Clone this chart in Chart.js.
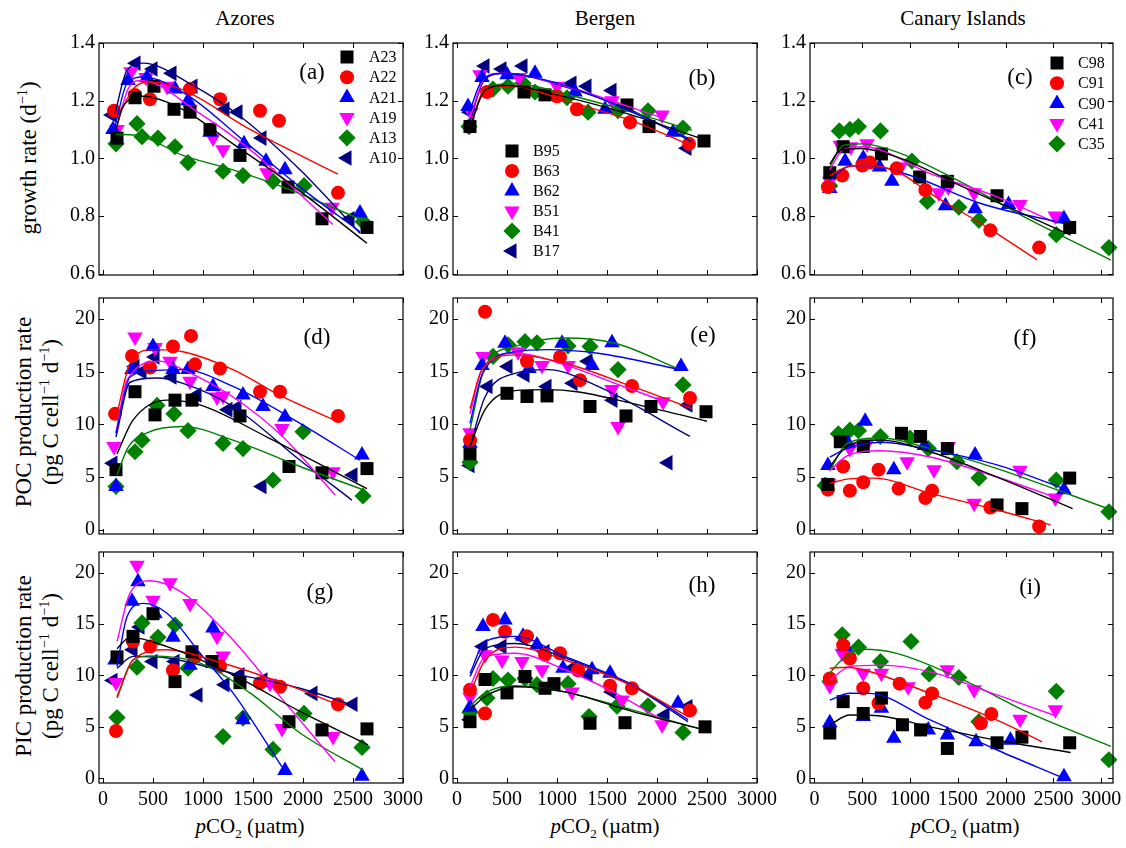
<!DOCTYPE html>
<html>
<head>
<meta charset="UTF-8">
<script src="https://cdn.jsdelivr.net/npm/chart.js@4.4.1/dist/chart.umd.min.js"></script>
<style>
  body { margin: 0; background: #fff; width: 1126px; height: 848px; position: relative; overflow: hidden;
         font-family: "Liberation Serif", "DejaVu Serif", serif; color: #000; }
  canvas { position: absolute; }
  .t { position: absolute; white-space: nowrap; transform: translate(-50%, -50%); }
  .rot { position: absolute; white-space: nowrap; transform: translate(-50%, -50%) rotate(-90deg); font-size: 23px; }
  sup, sub { font-size: 0.62em; }
</style>
</head>
<body>
<div class="t" style="left:245px;top:18px;font-size:21px">Azores</div>
<div class="t" style="left:605px;top:18px;font-size:21px">Bergen</div>
<div class="t" style="left:963px;top:18px;font-size:21px">Canary Islands</div>

<div class="rot" style="left:28px;top:158px">growth rate (d<sup>−1</sup>)</div>
<div class="rot" style="left:24px;top:412px">POC production rate</div>
<div class="rot" style="left:50px;top:412px">(pg C cell<sup>−1</sup> d<sup>−1</sup>)</div>
<div class="rot" style="left:24px;top:666px">PIC production rate</div>
<div class="rot" style="left:50px;top:666px">(pg C cell<sup>−1</sup> d<sup>−1</sup>)</div>

<div class="t" style="left:250px;top:828px;font-size:21px"><i>p</i>CO<sub>2</sub> (µatm)</div>
<div class="t" style="left:605px;top:828px;font-size:21px"><i>p</i>CO<sub>2</sub> (µatm)</div>
<div class="t" style="left:965px;top:828px;font-size:21px"><i>p</i>CO<sub>2</sub> (µatm)</div>

<script>
// ---- growth rate (d-1) ----
const growA23 = [[140,1.07],[320,1.21],[510,1.25],[710,1.17],[870,1.16],[1070,1.10],[1370,1.01],[1850,0.90],[2190,0.79],[2640,0.76]];
const growA23F = [[130,1.10],[200,1.18],[400,1.215],[640,1.195],[870,1.155],[1300,1.05],[1840,0.92],[2640,0.705]];
const growA22 = [[110,1.165],[320,1.22],[470,1.205],[870,1.24],[1170,1.205],[1570,1.165],[1760,1.13],[2350,0.88]];
const growA22F = [[150,1.14],[300,1.24],[470,1.265],[800,1.237],[1470,1.10],[2350,0.945]];
const growA21 = [[100,1.10],[250,1.27],[440,1.28],[720,1.24],[850,1.20],[1070,1.09],[1410,1.05],[1630,0.99],[1820,0.96],[2570,0.81]];
const growA21F = [[120,1.11],[240,1.26],[400,1.282],[840,1.22],[1400,1.063],[1970,0.90],[2570,0.745]];
const growA19 = [[140,1.10],[280,1.30],[430,1.28],[640,1.25],[870,1.17],[1100,1.07],[1200,1.03],[1640,0.95],[2290,0.83]];
const growA19F = [[140,1.11],[250,1.24],[380,1.27],[970,1.155],[1470,1.03],[2300,0.77]];
const growA13 = [[130,1.05],[340,1.12],[390,1.075],[550,1.07],[720,1.04],[850,0.985],[1200,0.955],[1400,0.94],[1700,0.92],[2010,0.905],[2600,0.78]];
const growA13F = [[130,1.083],[340,1.08],[800,1.01],[1300,0.96],[1800,0.90],[2600,0.785]];
const growA10 = [[90,1.15],[330,1.33],[500,1.31],[690,1.295],[900,1.25],[1220,1.17],[1350,1.16],[1590,1.07],[2470,0.79]];
const growA10F = [[120,1.156],[240,1.305],[400,1.33],[900,1.253],[1400,1.138],[1970,0.96],[2570,0.74]];

const growB95 = [[130,1.11],[670,1.23],[880,1.22],[1700,1.185],[1920,1.11],[2470,1.06]];
const growB95F = [[130,1.11],[280,1.235],[480,1.253],[1080,1.213],[1750,1.15],[2410,1.072]];
const growB63 = [[300,1.23],[680,1.235],[1000,1.215],[1200,1.17],[1730,1.125],[2320,1.05]];
const growB63F = [[150,1.13],[280,1.24],[560,1.25],[1080,1.20],[1750,1.13],[2300,1.05]];
const growB62 = [[110,1.18],[250,1.28],[500,1.29],[780,1.295],[1180,1.23],[1480,1.17],[2160,1.09]];
const growB62F = [[115,1.15],[250,1.27],[450,1.294],[1080,1.253],[1750,1.16],[2310,1.07]];
const growB51 = [[140,1.16],[230,1.29],[620,1.28],[1000,1.25],[1550,1.20],[2050,1.15]];
const growB51F = [[130,1.14],[280,1.28],[450,1.295],[1080,1.25],[2050,1.14]];
const growB41 = [[120,1.11],[360,1.24],[510,1.25],[660,1.26],[780,1.23],[1100,1.21],[1310,1.16],[1610,1.165],[1910,1.165],[2260,1.105]];
const growB41F = [[130,1.11],[280,1.24],[580,1.26],[1080,1.223],[1750,1.16],[2350,1.097]];
const growB17 = [[130,1.16],[280,1.32],[450,1.31],[660,1.32],[1150,1.26],[1300,1.25],[1550,1.235],[2300,1.035]];
const growB17F = [[130,1.13],[280,1.275],[480,1.295],[1080,1.248],[1750,1.165],[2350,1.057]];

const growC98 = [[160,0.95],[300,1.04],[700,1.015],[1100,0.935],[1390,0.92],[1910,0.87],[2670,0.76]];
const growC98F = [[160,0.98],[270,1.028],[480,1.034],[860,1.005],[1560,0.90],[2680,0.733]];
const growC91 = [[140,0.90],[290,0.94],[500,0.975],[580,0.985],[860,0.965],[1160,0.89],[1840,0.75],[2350,0.69]];
const growC91F = [[160,0.94],[340,0.97],[510,0.976],[860,0.955],[1210,0.878],[1740,0.774],[2330,0.647]];
const growC90 = [[160,0.895],[320,0.99],[510,1.0],[680,0.97],[810,0.92],[1370,0.835],[1680,0.825],[2030,0.84],[2610,0.79]];
const growC90F = [[160,0.925],[370,0.973],[560,0.975],[1040,0.936],[1740,0.843],[2610,0.774]];
const growC41 = [[160,0.92],[270,1.045],[380,1.04],[550,1.05],[900,0.97],[1300,0.88],[1400,0.90],[1670,0.88],[2150,0.84],[2520,0.80]];
const growC41F = [[160,0.96],[300,1.03],[510,1.04],[1210,0.947],[1910,0.866],[2540,0.774]];
const growC35 = [[160,0.905],[260,1.095],[370,1.10],[460,1.11],[690,1.095],[1020,0.99],[1180,0.85],[1510,0.83],[1720,0.785],[2530,0.735],[3080,0.69]];
const growC35F = [[160,0.97],[300,1.045],[510,1.05],[860,1.022],[1560,0.913],[2260,0.785],[3100,0.647]];

// ---- POC production rate ----
const pocA23 = [[130,5.7],[320,13.1],[520,10.9],[720,12.3],[890,12.3],[1370,10.8],[1860,6.0],[2190,5.4],[2640,5.8]];
const pocA23F = [[140,7.2],[300,10.4],[640,12.3],[970,11.85],[1640,8.8],[2640,3.9]];
const pocA22 = [[120,11.0],[290,16.5],[470,15.4],[700,17.4],[880,18.4],[920,15.7],[1170,15.3],[1570,13.1],[1770,13.1],[2350,10.8]];
const pocA22F = [[140,11.0],[270,15.8],[500,17.1],[800,16.9],[1300,15.2],[1800,12.6],[2350,10.25]];
const pocA21 = [[130,4.1],[290,15.2],[500,17.4],[700,15.2],[850,15.2],[1100,13.6],[1400,12.8],[1600,11.7],[1820,10.7],[2590,7.1]];
const pocA21F = [[130,9.15],[270,14.5],[500,15.1],[800,15.2],[1300,13.6],[1970,10.1],[2570,6.6]];
const pocA19 = [[110,7.9],[320,18.3],[520,17.3],[670,16.0],[870,14.1],[1140,12.6],[1200,12.7],[1790,9.6],[2300,5.5]];
const pocA19F = [[130,9.2],[240,14.2],[570,16.0],[800,15.2],[1300,12.6],[1800,8.8],[2320,3.3]];
const pocA13 = [[130,4.1],[320,7.4],[390,8.5],[540,11.8],[710,11.0],[850,9.4],[1200,8.2],[1400,7.7],[1700,4.7],[2000,9.3],[2600,3.2]];
const pocA13F = [[140,5.2],[250,7.8],[440,9.2],[800,9.8],[1300,8.5],[1970,6.0],[2600,3.8]];
const pocA10 = [[100,6.3],[320,15.5],[390,15.0],[520,16.4],[690,14.5],[940,12.8],[1250,11.4],[1340,11.6],[1590,4.1],[2500,5.2]];
const pocA10F = [[130,8.8],[270,14.0],[540,14.4],[800,13.9],[1300,11.7],[1970,6.6],[2490,2.8]];

const pocB95 = [[130,7.2],[500,12.95],[700,12.65],[900,12.7],[1330,11.7],[1690,10.8],[1940,11.7],[2490,11.2]];
const pocB95F = [[130,7.9],[280,11.4],[580,13.2],[900,13.3],[1200,13.1],[1750,12.0],[2500,10.3]];
const pocB63 = [[130,8.5],[280,20.7],[700,16.0],[1030,16.4],[1230,14.2],[1750,13.65],[2330,12.5]];
const pocB63F = [[130,11.5],[250,15.2],[580,16.6],[1080,15.8],[1750,13.6],[2350,11.5]];
const pocB62 = [[130,8.2],[250,15.6],[480,17.7],[720,15.3],[1050,17.7],[1350,15.6],[1550,17.75],[2240,15.5]];
const pocB62F = [[130,10.1],[250,14.7],[580,16.9],[910,17.1],[1410,16.75],[2230,15.2]];
const pocB51 = [[130,9.2],[260,16.45],[610,16.9],[850,15.6],[1110,15.6],[1550,13.3],[1610,9.8],[2060,12.15]];
const pocB51F = [[130,11.0],[250,15.2],[580,16.75],[1080,15.65],[1580,13.9],[2080,12.15]];
const pocB41 = [[130,6.4],[360,16.45],[510,17.55],[680,17.85],[800,17.75],[1110,17.45],[1330,17.4],[1610,15.2],[2260,13.75]];
const pocB41F = [[130,9.5],[280,15.5],[580,17.4],[1080,18.2],[1580,17.7],[2230,15.2]];
const pocB17 = [[130,6.1],[310,13.6],[510,15.5],[680,14.7],[900,13.6],[1160,13.9],[1310,16.0],[1560,12.3],[2110,6.35],[2310,11.85]];
const pocB17F = [[130,7.9],[280,12.6],[580,14.85],[910,15.2],[1410,13.6],[2330,8.85]];

const pocC98 = [[140,4.3],[270,8.35],[510,7.9],[910,9.15],[1110,8.85],[1390,7.7],[1910,2.35],[2170,2.0],[2670,4.9]];
const pocC98F = [[160,6.0],[340,7.9],[690,8.5],[1210,7.4],[1910,5.0],[2700,2.0]];
const pocC91 = [[140,3.8],[300,6.0],[370,3.7],[510,4.5],[670,5.7],[880,3.9],[1160,3.0],[1230,3.7],[1840,2.1],[2350,0.3]];
const pocC91F = [[160,4.4],[340,4.8],[620,4.9],[1210,3.45],[1910,1.87],[2470,0.45]];
const pocC90 = [[140,6.1],[350,8.2],[530,10.3],[830,5.7],[1150,8.0],[1680,7.1],[2610,3.8]];
const pocC90F = [[160,6.9],[340,7.7],[690,8.3],[1210,7.6],[1910,6.15],[2610,3.9]];
const pocC41 = [[150,4.4],[370,7.7],[550,8.2],[970,6.45],[1250,5.7],[1400,7.9],[1670,2.5],[2150,5.65],[2520,3.0]];
const pocC41F = [[160,5.6],[340,7.0],[690,7.5],[1210,6.9],[1910,5.0],[2540,3.0]];
const pocC35 = [[110,4.2],[250,9.1],[370,9.45],[460,9.4],[690,8.85],[1000,8.7],[1190,7.7],[1490,6.45],[1720,4.9],[2530,4.7],[3080,1.7]];
const pocC35F = [[160,5.6],[340,8.2],[690,8.7],[1210,7.7],[1910,5.8],[3100,1.9]];

// ---- PIC production rate ----
const picA23 = [[140,11.8],[300,13.8],[500,16.0],[720,9.4],[890,12.3],[1090,11.35],[1370,9.3],[1860,5.5],[2190,4.7],[2640,4.8]];
const picA23F = [[140,12.6],[270,13.7],[640,12.8],[1300,10.05],[1970,6.5],[2650,3.25]];
const picA22 = [[130,4.6],[300,13.3],[470,12.8],[700,10.5],[920,11.8],[1170,10.9],[1570,9.25],[1770,8.9],[2350,7.2]];
const picA22F = [[140,7.8],[300,11.5],[640,12.5],[1140,11.35],[1800,9.25],[2350,7.15]];
const picA21 = [[120,11.5],[290,17.2],[350,19.1],[520,16.0],[700,13.7],[870,11.0],[1100,14.6],[1400,5.7],[1820,0.75],[2590,0.2]];
const picA21F = [[140,10.85],[240,15.7],[400,17.0],[640,16.05],[970,12.15],[1300,8.3],[1790,1.1]];
const picA19 = [[130,9.3],[340,20.7],[500,17.3],[670,19.0],[870,17.0],[1140,13.8],[1200,11.9],[1670,9.25],[1790,4.85],[2300,4.05]];
const picA19F = [[140,13.3],[270,18.0],[470,19.2],[800,18.0],[1300,13.45],[1800,7.6],[2320,1.6]];
const picA13 = [[140,5.9],[340,10.8],[390,15.1],[550,13.7],[720,14.9],[850,10.7],[1200,4.05],[1400,5.85],[1700,2.8],[2010,6.3],[2590,3.0]];
const picA13F = [[140,7.95],[300,11.5],[470,11.9],[970,11.2],[1470,8.3],[1970,4.4],[2600,0.8]];
const picA10 = [[100,9.5],[300,12.5],[370,14.7],[500,11.35],[720,11.35],[950,8.1],[1220,9.1],[1370,10.05],[1600,9.55],[2100,8.25],[2500,7.2]];
const picA10F = [[140,10.7],[300,11.85],[640,11.7],[1300,10.2],[1970,8.75],[2500,7.1]];

const picB95 = [[130,5.5],[280,9.6],[500,8.3],[680,9.9],[880,8.75],[970,9.2],[1330,5.35],[1680,5.4],[2480,5.0]];
const picB95F = [[130,6.65],[280,7.95],[580,8.9],[1080,8.4],[1750,6.5],[2480,4.7]];
const picB63 = [[130,8.6],[280,6.3],[360,15.4],[480,14.25],[700,13.8],[880,12.0],[1030,12.15],[1210,10.5],[1530,9.0],[1750,8.75],[2330,6.6]];
const picB63F = [[130,8.2],[280,11.5],[580,12.75],[1080,11.5],[1750,9.0],[2310,6.0]];
const picB62 = [[130,6.9],[260,14.75],[480,15.4],[660,13.8],[800,12.95],[1060,10.7],[1350,10.55],[1530,10.2],[2210,7.3]];
const picB62F = [[130,10.2],[280,13.3],[580,13.8],[1080,11.85],[1750,9.1],[2310,5.7]];
const picB51 = [[130,7.9],[280,12.0],[450,11.5],[650,11.35],[850,10.55],[1150,8.4],[1650,7.6],[2050,5.2]];
const picB51F = [[130,8.9],[280,11.8],[580,12.15],[1080,10.55],[1580,8.3],[2080,5.5]];
const picB41 = [[130,6.4],[300,7.8],[360,9.7],[510,9.55],[680,9.7],[800,9.1],[1110,9.2],[1320,6.0],[1600,7.0],[1910,7.05],[2260,4.45]];
const picB41F = [[130,7.0],[280,8.3],[580,9.0],[1080,8.4],[1750,6.65],[2410,4.85]];
const picB17 = [[130,5.7],[260,12.8],[450,12.8],[660,13.6],[880,12.3],[1150,10.7],[1310,10.05],[1550,8.4],[2080,6.15],[2310,6.95]];
const picB17F = [[130,9.9],[280,12.6],[580,13.1],[1080,11.7],[1750,9.0],[2310,5.5]];

const picC98 = [[160,4.4],[300,7.45],[510,6.3],[700,7.8],[920,5.2],[1110,4.7],[1390,2.9],[1910,3.45],[2170,4.0],[2670,3.45]];
const picC98F = [[160,5.2],[370,6.15],[690,6.05],[1210,5.0],[1910,3.7],[2680,2.5]];
const picC91 = [[160,9.7],[300,12.95],[370,11.65],[510,8.75],[670,7.3],[890,9.2],[1160,7.35],[1230,8.25],[1740,5.35],[1850,6.25]];
const picC91F = [[160,10.7],[340,10.8],[510,10.55],[1210,8.25],[1910,5.65],[2380,3.55]];
const picC90 = [[160,5.4],[320,12.8],[510,6.0],[700,6.8],[830,3.9],[1190,4.7],[1390,4.2],[1690,3.55],[2050,3.7],[2610,0.15]];
const picC90F = [[160,7.6],[370,8.27],[580,8.25],[1210,5.67],[1910,2.75],[2570,0.15]];
const picC41 = [[160,9.0],[290,12.15],[510,10.2],[700,10.2],[980,8.9],[1390,10.55],[1670,8.6],[2150,5.75],[2520,6.65]];
const picC41F = [[160,9.55],[370,10.85],[690,11.0],[1210,10.35],[1910,8.1],[2500,6.15]];
const picC35 = [[160,9.4],[290,13.95],[350,12.0],[460,12.75],[690,11.35],[1010,13.3],[1200,10.15],[1510,9.8],[1720,5.5],[2530,8.45],[3080,1.8]];
const picC35F = [[160,10.2],[300,11.65],[510,12.55],[860,12.15],[1560,9.55],[2260,6.3],[3100,3.1]];

const strainsA = ['A23', 'A22', 'A21', 'A19', 'A13', 'A10'];
const strainsB = ['B95', 'B63', 'B62', 'B51', 'B41', 'B17'];
const strainsC = ['C98', 'C91', 'C90', 'C41', 'C35'];
const xTicks = [0, 500, 1000, 1500, 2000, 2500, 3000];

// marker look for each strain slot (black square, red circle, blue up, magenta down, green diamond, navy left)
const looks = [
  { color: '#000000', style: 'rect', rot: 0, r: 9.2 },
  { color: '#ff0000', style: 'circle', rot: 0, r: 7 },
  { color: '#0000ff', style: 'triangle', rot: 0, r: 9 },
  { color: '#ff00ff', style: 'triangle', rot: 180, r: 9 },
  { color: '#008000', style: 'rectRot', rot: 0, r: 8.6 },
  { color: '#000080', style: 'triangle', rot: 270, r: 9 }
];

const cols = [
  { L: 99, R: 403, min: -40, max: 3000, names: strainsA },
  { L: 453, R: 757, min: -40, max: 3000, names: strainsB },
  { L: 810, R: 1113, min: -47, max: 3123, names: strainsC }
];
const rows = [
  { T: 43, B: 275, min: 0.595, max: 1.4, step: 0.2, dec: 1, pre: 'grow' },
  { T: 298, B: 534, min: -0.41, max: 22, step: 5, dec: 0, pre: 'poc' },
  { T: 552, B: 783, min: -0.46, max: 22, step: 5, dec: 0, pre: 'pic' }
];
const letters = [['(a)', 312, 72], ['(b)', 702, 78], ['(c)', 1020, 77],
                 ['(d)', 317, 337], ['(e)', 703, 335], ['(f)', 1025, 338],
                 ['(g)', 320, 592], ['(h)', 702, 585], ['(i)', 1030, 587]];
// legend anchor: marker x, first row y, row step, text x (page px)
const legends = { '0,0': [347, 57, 20.2, 369], '0,1': [512, 151, 20, 533], '0,2': [1057, 63, 20.2, 1078] };

const DATA = {
  growA23, growA23F, growA22, growA22F, growA21, growA21F, growA19, growA19F, growA13, growA13F, growA10, growA10F,
  growB95, growB95F, growB63, growB63F, growB62, growB62F, growB51, growB51F, growB41, growB41F, growB17, growB17F,
  growC98, growC98F, growC91, growC91F, growC90, growC90F, growC41, growC41F, growC35, growC35F,
  pocA23, pocA23F, pocA22, pocA22F, pocA21, pocA21F, pocA19, pocA19F, pocA13, pocA13F, pocA10, pocA10F,
  pocB95, pocB95F, pocB63, pocB63F, pocB62, pocB62F, pocB51, pocB51F, pocB41, pocB41F, pocB17, pocB17F,
  pocC98, pocC98F, pocC91, pocC91F, pocC90, pocC90F, pocC41, pocC41F, pocC35, pocC35F,
  picA23, picA23F, picA22, picA22F, picA21, picA21F, picA19, picA19F, picA13, picA13F, picA10, picA10F,
  picB95, picB95F, picB63, picB63F, picB62, picB62F, picB51, picB51F, picB41, picB41F, picB17, picB17F,
  picC98, picC98F, picC91, picC91F, picC90, picC90F, picC41, picC41F, picC35, picC35F
};

const FONT = '"Liberation Serif", "DejaVu Serif", serif';
const PL = 60, PR = 32, PT = 16, PB = 40;

function xy(arr) { return arr.map(p => ({ x: p[0], y: p[1] })); }

function markerAt(ctx, look, x, y) {
  ctx.save();
  ctx.fillStyle = look.color;
  ctx.strokeStyle = look.color;
  if (Chart.helpers && Chart.helpers.drawPoint) {
    Chart.helpers.drawPoint(ctx, { pointStyle: look.style, radius: look.r, rotation: look.rot, borderWidth: 0 }, x, y);
  }
  ctx.restore();
}

const framePlugin = {
  id: 'frame',
  afterDatasetsDraw(chart, args, opts) {
    const ctx = chart.ctx, a = chart.chartArea, xs = chart.scales.x, ys = chart.scales.y;
    ctx.save();
    ctx.strokeStyle = '#000';
    ctx.lineWidth = 1.2;
    ctx.strokeRect(a.left, a.top, a.right - a.left, a.bottom - a.top);
    ctx.lineWidth = 1;
    ctx.beginPath();
    xs.ticks.forEach(t => {
      const p = Math.round(xs.getPixelForValue(t.value)) + 0.5;
      ctx.moveTo(p, a.bottom); ctx.lineTo(p, a.bottom - 5);
      ctx.moveTo(p, a.top); ctx.lineTo(p, a.top + 5);
    });
    ys.ticks.forEach(t => {
      const p = Math.round(ys.getPixelForValue(t.value)) + 0.5;
      ctx.moveTo(a.left, p); ctx.lineTo(a.left + 5, p);
      ctx.moveTo(a.right, p); ctx.lineTo(a.right - 5, p);
    });
    ctx.stroke();
    if (opts.legend) {
      const [mx, my, dy, tx] = opts.legend;
      ctx.font = '16px ' + FONT;
      ctx.textBaseline = 'middle';
      opts.names.forEach((n, i) => {
        markerAt(ctx, looks[i], mx - opts.ox, my + i * dy - opts.oy);
        ctx.fillStyle = '#000';
        ctx.fillText(n, tx - opts.ox, my + i * dy - opts.oy + 1);
      });
    }
    ctx.restore();
  }
};

rows.forEach((row, ri) => {
  cols.forEach((col, ci) => {
    const w = col.R - col.L + PL + PR, h = row.B - row.T + PT + PB;
    const ox = col.L - PL, oy = row.T - PT;
    const cv = document.createElement('canvas');
    cv.width = w; cv.height = h;
    cv.style.left = ox + 'px'; cv.style.top = oy + 'px';
    cv.style.width = w + 'px'; cv.style.height = h + 'px';
    document.body.appendChild(cv);

    const lines = [], pts = [];
    col.names.forEach((n, i) => {
      const look = looks[i];
      lines.push({
        data: xy(DATA[row.pre + n + 'F']), showLine: true, pointRadius: 0,
        borderColor: look.color, borderWidth: 1.4, cubicInterpolationMode: 'monotone', fill: false
      });
      pts.push({
        data: xy(DATA[row.pre + n]), showLine: false, pointStyle: look.style, pointRotation: look.rot,
        pointRadius: look.r, backgroundColor: look.color, borderColor: look.color, borderWidth: 0, clip: 12
      });
    });

    const tickFont = { family: FONT, size: 20 };
    new Chart(cv, {
      type: 'scatter',
      data: { datasets: lines.concat(pts) },
      options: {
        animation: false, responsive: false, devicePixelRatio: 1,
        layout: { padding: { top: PT, right: PR, left: 0, bottom: 0 } },
        plugins: {
          legend: { display: false }, tooltip: { enabled: false },
          frame: { legend: legends[ri + ',' + ci] || null, names: col.names, ox: ox, oy: oy }
        },
        scales: {
          x: {
            type: 'linear', min: col.min, max: col.max,
            grid: { display: false, drawTicks: false }, border: { display: false },
            afterFit(s) { s.height = PB; },
            afterBuildTicks(s) { s.ticks = xTicks.map(v => ({ value: v })); },
            ticks: { display: ri === 2, autoSkip: false, maxRotation: 0, padding: 5, color: '#000',
                     font: tickFont, callback: v => String(v) }
          },
          y: {
            type: 'linear', min: row.min, max: row.max,
            grid: { display: false, drawTicks: false }, border: { display: false },
            afterFit(s) { s.width = PL; },
            ticks: { stepSize: row.step, includeBounds: false, padding: 4, color: '#000', font: tickFont,
                     callback: v => Number(v).toFixed(row.dec) }
          }
        }
      },
      plugins: [framePlugin]
    });

    const L = letters[ri * 3 + ci];
    const d = document.createElement('div');
    d.className = 't';
    d.style.cssText = 'left:' + L[1] + 'px;top:' + L[2] + 'px;font-size:23px';
    d.textContent = L[0];
    document.body.appendChild(d);
  });
});
</script>
</body>
</html>
